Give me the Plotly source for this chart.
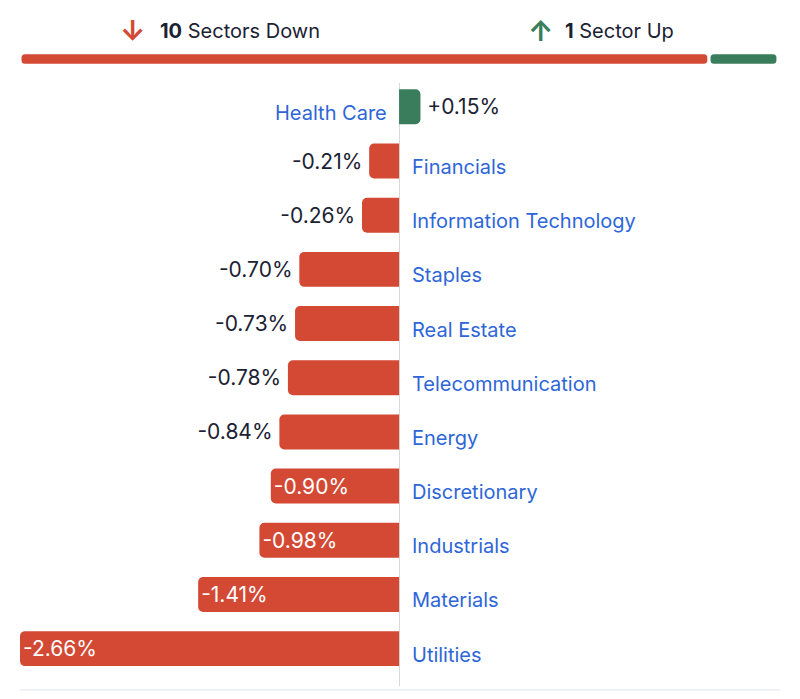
import plotly.graph_objects as go

sectors = ["Health Care", "Financials", "Information Technology", "Staples", "Real Estate",
           "Telecommunication", "Energy", "Discretionary", "Industrials", "Materials", "Utilities"]
changes = [0.15, -0.21, -0.26, -0.70, -0.73, -0.78, -0.84, -0.90, -0.98, -1.41, -2.66]
down_count = 10
up_count = 1

RED = "#D44934"
GREEN = "#3A7D5C"
BLUE = "#2E66D8"
DARK = "#1B2233"
FONT = "Inter"

OFF = 8  # page body margin
W, H = 800 - OFF, 699 - OFF
ML, MR, MT, MB = 20 - OFF, W - (780 - OFF), 12, 13
PH = H - MT - MB
PW = W - ML - MR

def py(p):  # reference pixel y -> paper
    return (H - MB - (p - OFF)) / PH

def px(p):
    return (p - OFF - ML) / PW

inside = [abs(v) > 0.86 for v in changes]
labels = []
for v, ins in zip(changes, inside):
    t = f"{v:+.2f}%"
    if not ins:
        t = ("\u2009" + t) if v > 0 else (t + "\u2009")
    labels.append(t)

fig = go.Figure()

fig.add_trace(go.Bar(
    x=changes, y=sectors, orientation="h",
    marker=dict(color=[GREEN if v > 0 else RED for v in changes], cornerradius=5, line=dict(width=0)),
    width=0.645,
    text=labels,
    textposition=["inside" if i else "outside" for i in inside],
    insidetextanchor="end",
    insidetextfont=dict(color="white", size=21, family=FONT),
    outsidetextfont=dict(color=DARK, size=21, family=FONT),
    constraintext="none", cliponaxis=False,
    hoverinfo="skip", xaxis="x", yaxis="y",
))

# header breadth bar
fig.add_trace(go.Bar(
    x=[-down_count], base=[down_count], y=["breadth"], orientation="h",
    marker=dict(color=RED, cornerradius=5, line=dict(color="white", width=3)),
    width=0.45, xaxis="x2", yaxis="y2", hoverinfo="skip",
))
fig.add_trace(go.Bar(
    x=[up_count], base=[down_count], y=["breadth"], orientation="h",
    marker=dict(color=GREEN, cornerradius=5, line=dict(color="white", width=3)),
    width=0.45, xaxis="x2", yaxis="y2", hoverinfo="skip",
))

annotations = []
for s, v in zip(sectors, changes):
    annotations.append(dict(
        x=0, y=s, xref="x", yref="y", text=s, showarrow=False,
        xanchor="right" if v > 0 else "left", xshift=-10 if v > 0 else 11, yshift=-6,
        font=dict(color=BLUE, size=20, family=FONT),
    ))

annotations += [
    dict(x=px(133), y=py(31), xref="paper", yref="paper", text="<b>↓</b>", showarrow=False,
         xanchor="center", yanchor="middle", font=dict(color=RED, size=28, family=FONT)),
    dict(x=px(158), y=py(31), xref="paper", yref="paper",
         text=f"<b>{down_count}</b> Sectors Down", showarrow=False,
         xanchor="left", yanchor="middle", font=dict(color=DARK, size=20, family=FONT)),
    dict(x=px(540), y=py(31), xref="paper", yref="paper", text="<b>↑</b>", showarrow=False,
         xanchor="center", yanchor="middle", font=dict(color=GREEN, size=28, family=FONT)),
    dict(x=px(563), y=py(31), xref="paper", yref="paper",
         text=f"<b>{up_count}</b> Sector Up", showarrow=False,
         xanchor="left", yanchor="middle", font=dict(color=DARK, size=20, family=FONT)),
]

fig.update_layout(
    width=W, height=H,
    margin=dict(l=ML, r=MR, t=MT, b=MB),
    paper_bgcolor="white", plot_bgcolor="white",
    barmode="overlay", showlegend=False,
    font=dict(family=FONT),
    xaxis=dict(range=[-2.66, 2.673], domain=[0, 1], showgrid=False, showticklabels=False,
               zeroline=True, zerolinecolor="#D9D9D9", zerolinewidth=1, fixedrange=True),
    yaxis=dict(domain=[0, py(83)], categoryorder="array", categoryarray=sectors,
               range=[10.69, -0.44], showgrid=False, showticklabels=False, zeroline=False),
    xaxis2=dict(range=[0, 11.03], domain=[0, 1], anchor="y2", showgrid=False,
                showticklabels=False, zeroline=False),
    yaxis2=dict(domain=[py(73), py(45)], anchor="x2", range=[-0.5, 0.5], showgrid=False,
                showticklabels=False, zeroline=False),
    annotations=annotations,
    shapes=[dict(type="line", xref="paper", yref="paper", x0=0, x1=1, y0=py(690), y1=py(690),
                 line=dict(color="#EEF1F5", width=2))],
)

fig.write_html("out.html")
